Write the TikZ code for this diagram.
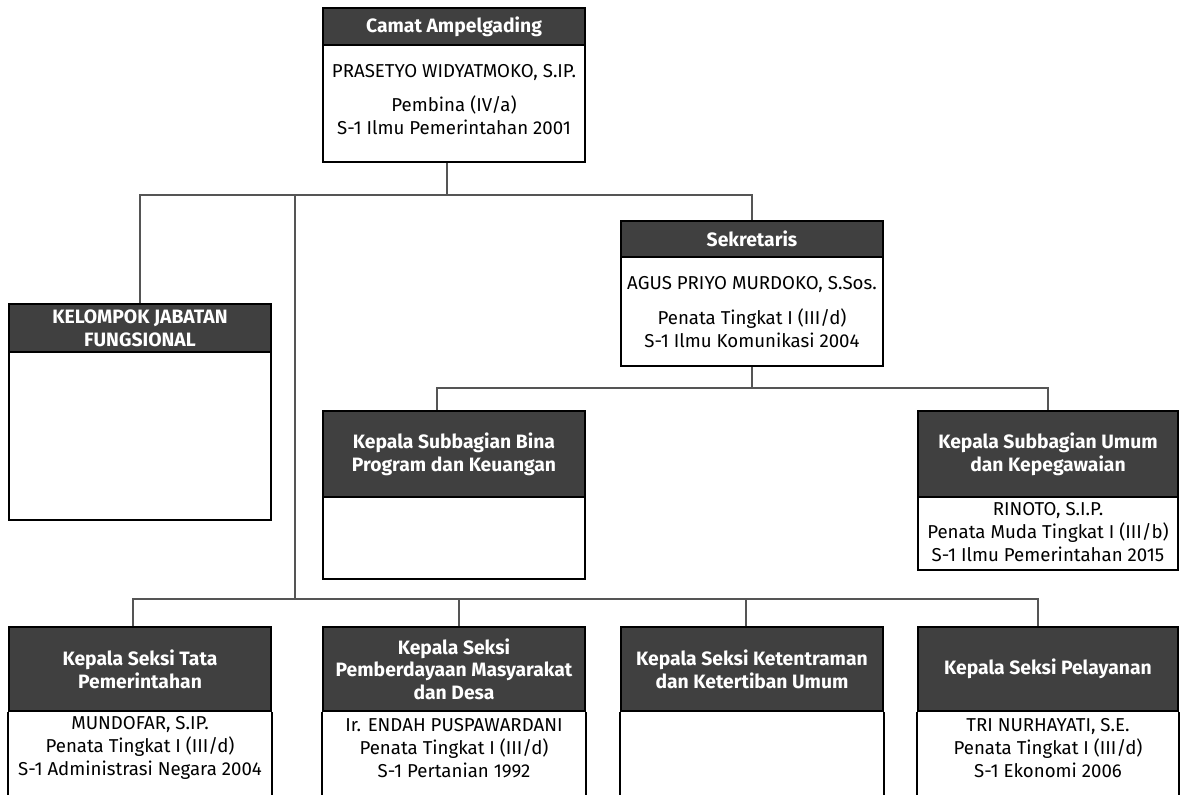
\documentclass[tikz,border=0pt]{standalone}
\usepackage{fontspec}
\setmainfont{Fira Sans}
\usetikzlibrary{fit,calc}
\definecolor{hdr}{HTML}{404040}
\definecolor{conc}{HTML}{555555}
\begin{document}
\begin{tikzpicture}[x=0.75pt,y=-0.75pt,
  whole/.style={draw=black,line width=1.5pt,inner sep=0pt,fill=white},
  hd/.style={draw=black,line width=1.5pt,fill=hdr,inner sep=0pt},
  ht/.style={text=white,font=\bfseries\fontsize{14.5}{17}\selectfont,align=center,inner sep=0pt},
  bt/.style={font=\fontsize{14}{17}\selectfont,align=center,inner sep=0pt},
  side/.style={draw=black,line width=1.5pt},
  conn/.style={draw=conc,line width=1pt}]
\useasboundingbox[fill=white] (0,0) rectangle (1181,794);
\coordinate (bot) at (0,796);

% Camat
\node[whole,fit={(323,8)(585,162)}] (camat) {};
\node[hd,fit={(323,8)(585,45)}] (camat-h) {};
\node[ht] (camat-ht) at (camat-h.center) {Camat Ampelgading};
\node[bt] (camat-t) at (454,99.5) {PRASETYO WIDYATMOKO, S.IP.\\[9pt]Pembina (IV/a)\\S-1 Ilmu Pemerintahan 2001};

% Sekretaris
\node[whole,fit={(621,221)(883,366)}] (sek) {};
\node[hd,fit={(621,221)(883,257)}] (sek-h) {};
\node[ht] (sek-ht) at (sek-h.center) {Sekretaris};
\node[bt] (sek-t) at (752,312) {AGUS PRIYO MURDOKO, S.Sos.\\[9pt]Penata Tingkat I (III/d)\\S-1 Ilmu Komunikasi 2004};

% Kelompok
\node[whole,fit={(9,304)(271,520)}] (kel) {};
\node[hd,fit={(9,304)(271,352)}] (kel-h) {};
\node[ht] (kel-ht) at (kel-h.center) {KELOMPOK JABATAN\\FUNGSIONAL};

% Bina
\node[whole,fit={(323,411)(585,579)}] (bina) {};
\node[hd,fit={(323,411)(585,497)}] (bina-h) {};
\node[ht] (bina-ht) at (bina-h.center) {Kepala Subbagian Bina\\Program dan Keuangan};

% Umum
\node[whole,fit={(918,411)(1178,570)}] (umum) {};
\node[hd,fit={(918,411)(1178,497)}] (umum-h) {};
\node[ht] (umum-ht) at (umum-h.center) {Kepala Subbagian Umum\\dan Kepegawaian};
\node[bt] (umum-t) at (1048,532) {RINOTO, S.I.P.\\Penata Muda Tingkat I (III/b)\\S-1 Ilmu Pemerintahan 2015};

% Bottom row
\node[hd,fit={(9,627)(271,711)}] (tata) {};
\node[hd,fit={(323,627)(585,711)}] (endah) {};
\node[hd,fit={(621,627)(883,711)}] (tentram) {};
\node[hd,fit={(918,627)(1178,711)}] (pel) {};
\node[ht] (tata-ht) at (tata.center) {Kepala Seksi Tata\\Pemerintahan};
\node[ht] (endah-ht) at (endah.center) {Kepala Seksi\\Pemberdayaan Masyarakat\\dan Desa};
\node[ht] (tentram-ht) at (tentram.center) {Kepala Seksi Ketentraman\\dan Ketertiban Umum};
\node[ht] (pel-ht) at (pel.center) {Kepala Seksi Pelayanan};
\foreach \n in {tata,endah,tentram,pel}{
  \draw[side] (\n.south west) -- (\n.south west |- bot);
  \draw[side] (\n.south east) -- (\n.south east |- bot);
}
\node[bt] (tata-t) at (140,748) {MUNDOFAR, S.IP.\\Penata Tingkat I (III/d)\\S-1 Administrasi Negara 2004};
\node[bt] (endah-t) at (454,748) {Ir. ENDAH PUSPAWARDANI\\Penata Tingkat I (III/d)\\S-1 Pertanian 1992};
\node[bt] (pel-t) at (1048,748) {TRI NURHAYATI, S.E.\\Penata Tingkat I (III/d)\\S-1 Ekonomi 2006};

% Connectors
\coordinate (t) at ($(camat.south)+(-7,32)$);
\coordinate (bx) at (295,599);
\draw[conn] ($(camat.south)+(-7,0)$) -- (t);
\draw[conn] (kel.north) |- (t) -| (sek.north);
\draw[conn] (t -| bx) -- (bx);

\coordinate (s2) at ($(sek.south)+(0,21)$);
\draw[conn] (sek.south) -- (s2);
\draw[conn] ($(bina.north)+(-17,0)$) |- (s2) -| (umum.north);

\coordinate (ta) at ($(tata.north)+(-7,0)$);
\coordinate (en) at ($(endah.north)+(5,0)$);
\coordinate (ke) at ($(tentram.north)+(-6,0)$);
\coordinate (pe) at ($(pel.north)+(-10,0)$);
\draw[conn] (ta) |- (bx) -| (pe);
\draw[conn] (en) -- (en |- bx);
\draw[conn] (ke) -- (ke |- bx);
\end{tikzpicture}
\end{document}
